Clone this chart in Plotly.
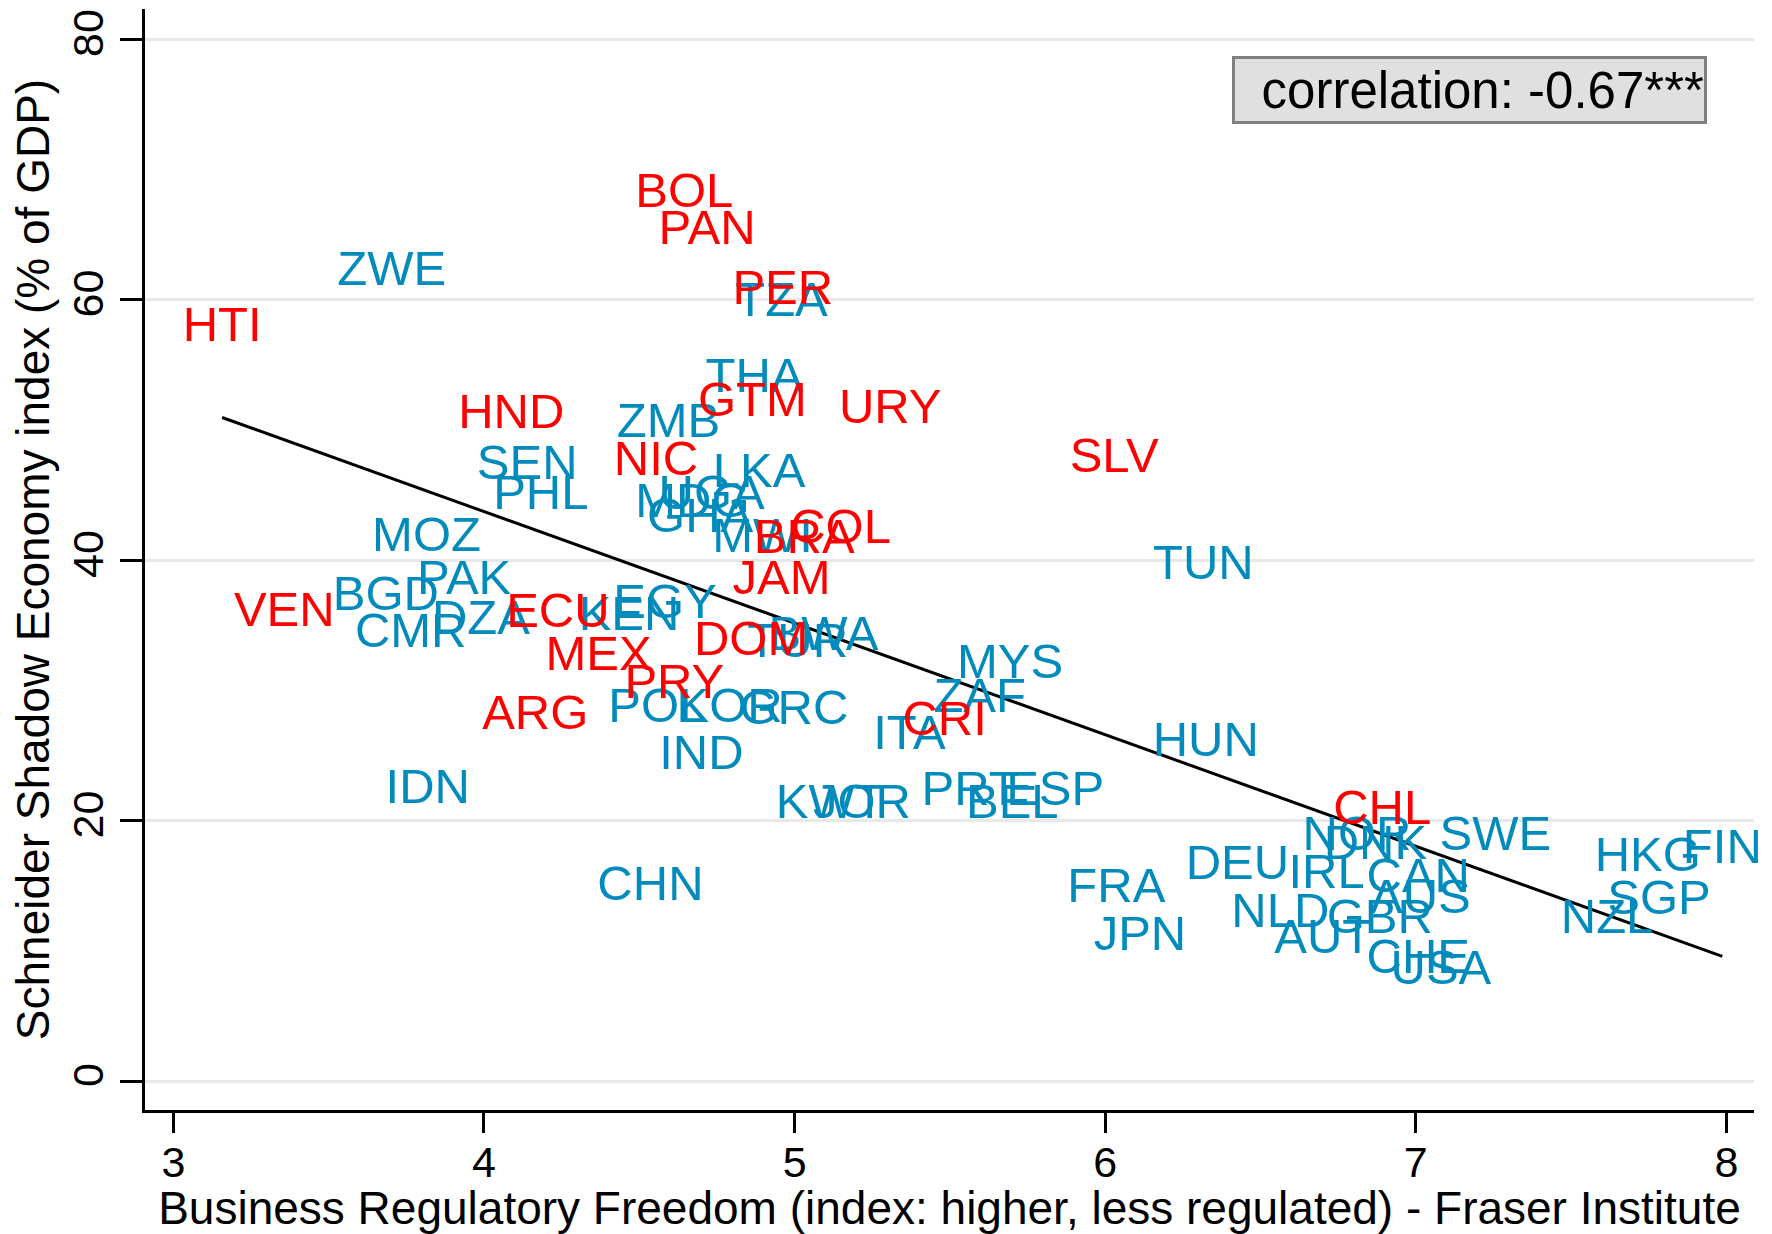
import numpy as np
import plotly.graph_objects as go

# Latin American countries (red labels)
latam_codes = ["BOL", "PAN", "PER", "HTI", "HND", "GTM", "URY", "NIC", "SLV", "COL",
               "BRA", "JAM", "VEN", "ECU", "DOM", "MEX", "PRY", "ARG", "CRI", "CHL"]
latam_x = [4.645, 4.718, 4.962, 3.157, 4.088, 4.864, 5.308, 4.554, 6.029, 5.148,
           5.031, 4.958, 3.357, 4.238, 4.860, 4.369, 4.613, 4.165, 5.483, 6.892]
latam_y = [68.1, 65.2, 60.65, 57.8, 51.1, 52.06, 51.5, 47.5, 47.7, 42.3,
           41.5, 38.4, 35.9, 35.8, 33.7, 32.5, 30.4, 28.0, 27.5, 20.7]

# Other countries (blue labels)
other_codes = ["ZWE", "TZA", "THA", "ZMB", "SEN", "LKA", "PHL", "MDG", "UGA", "GHA",
               "MWI", "MOZ", "TUN", "PAK", "BGD", "EGY", "KEN", "DZA", "CMR", "TUR",
               "BWA", "MYS", "ZAF", "POL", "KOR", "GRC", "ITA", "HUN", "IND", "IDN",
               "PRT", "ESP", "BEL", "KWT", "JOR", "NOR", "DNK", "SWE", "DEU", "IRL",
               "CAN", "HKG", "FIN", "FRA", "CHN", "AUS", "SGP", "NLD", "GBR", "NZL",
               "JPN", "AUT", "CHE", "USA"]
other_x = [3.703, 4.958, 4.871, 4.594, 4.139, 4.886, 4.183, 4.671, 4.733, 4.696,
           4.897, 3.815, 6.316, 3.936, 3.684, 4.583, 4.467, 3.990, 3.764, 5.010,
           5.093, 5.694, 5.596, 4.558, 4.791, 4.998, 5.370, 6.324, 4.700, 3.819,
           5.565, 5.839, 5.701, 5.115, 5.217, 6.811, 6.870, 7.256, 6.426, 6.713,
           7.008, 7.747, 7.987, 6.036, 4.536, 7.015, 7.783, 6.564, 6.884, 7.616,
           6.112, 6.702, 7.008, 7.081]
other_y = [62.1, 59.7, 53.9, 50.4, 47.2, 46.6, 44.9, 44.3, 44.9, 43.1,
           41.6, 41.7, 39.5, 38.4, 37.1, 36.5, 35.6, 35.3, 34.3, 33.5,
           34.1, 31.9, 29.3, 28.5, 28.5, 28.4, 26.5, 25.9, 24.9, 22.3,
           22.2, 22.2, 21.2, 21.2, 21.2, 18.7, 18.0, 18.7, 16.5, 15.8,
           15.5, 17.1, 17.7, 14.7, 14.9, 13.9, 13.8, 12.8, 12.3, 12.3,
           11.0, 10.8, 9.3, 8.4]

x_ticks = [3, 4, 5, 6, 7, 8]
y_ticks = [0, 20, 40, 60, 80]
corr_text = "correlation: -0.67***"
x_title = "Business Regulatory Freedom (index: higher, less regulated) - Fraser Institute"
y_title = "Schneider Shadow Economy index (% of GDP)"

RED = "#FF0000"
BLUE = "#008BBC"
FONT = "Liberation Sans, Arial, sans-serif"

all_x = np.array(other_x + latam_x)
all_y = np.array(other_y + latam_y)
slope, intercept = np.polyfit(all_x, all_y, 1)
fit_x = np.array([all_x.min(), all_x.max()])
fit_y = intercept + slope * fit_x

fig = go.Figure()

fig.add_trace(go.Scatter(
    x=fit_x, y=fit_y, mode="lines",
    line=dict(color="black", width=3),
    showlegend=False, hoverinfo="skip"))

fig.add_trace(go.Scatter(
    x=other_x, y=other_y, text=other_codes, mode="text",
    textposition="middle center",
    textfont=dict(family=FONT, size=49, color=BLUE),
    cliponaxis=False, showlegend=False))

fig.add_trace(go.Scatter(
    x=latam_x, y=latam_y, text=latam_codes, mode="text",
    textposition="middle center",
    textfont=dict(family=FONT, size=49, color=RED),
    cliponaxis=False, showlegend=False))

fig.add_annotation(
    x=0.9708, y=0.957, xref="paper", yref="paper",
    xanchor="right", yanchor="top",
    text=corr_text, showarrow=False,
    font=dict(family=FONT, size=51, color="black"),
    bgcolor="#E0E0E0", bordercolor="#808080", borderwidth=3, borderpad=0,
    width=469, height=62, align="right", valign="middle")

fig.update_layout(
    width=1772, height=1234,
    margin=dict(l=145, r=18, t=9, b=124),
    paper_bgcolor="white", plot_bgcolor="white",
    showlegend=False,
)

fig.update_xaxes(
    range=[2.9086, 8.089],
    tickvals=x_ticks, ticktext=[str(v) for v in x_ticks],
    ticks="outside", ticklen=20, tickwidth=3, tickcolor="black",
    ticklabelstandoff=-8,
    showline=True, linecolor="black", linewidth=3,
    showgrid=False, zeroline=False,
    tickfont=dict(family=FONT, size=43, color="black"),
    title=dict(text=x_title, font=dict(family=FONT, size=46, color="black"), standoff=2),
    automargin=False,
)

fig.update_yaxes(
    range=[-2.196, 82.34],
    tickvals=y_ticks, ticktext=[str(v) for v in y_ticks],
    ticks="outside", ticklen=22, tickwidth=3, tickcolor="black",
    tickangle=-90,
    showline=True, linecolor="black", linewidth=3,
    showgrid=True, gridcolor="#E8E8E8", gridwidth=3,
    zeroline=False,
    tickfont=dict(family=FONT, size=43, color="black"),
    title=dict(text=y_title, font=dict(family=FONT, size=46, color="black"), standoff=0),
    automargin=False,
)

fig.write_html("out.html", config={"displayModeBar": False},
               post_script="document.body.style.margin='0px';")
